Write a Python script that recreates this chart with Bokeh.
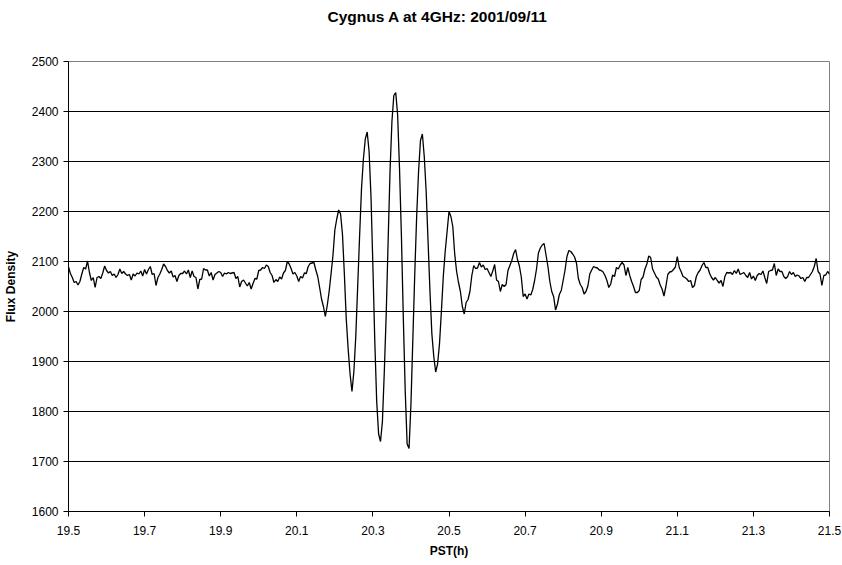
import numpy as np
from bokeh.plotting import figure
from bokeh.models import FixedTicker, Range1d, ColumnDataSource, Title
from bokeh.embed import file_html
from bokeh.resources import INLINE

# Time axis: regular sampling, hours PST
t_start = 19.5
t_step = 0.005

# Flux density readings, split by section of the scan
flux_pre_a = [
    2089, 2076, 2068, 2058, 2060, 2053, 2060, 2075, 2088, 2085,
    2101, 2078, 2062, 2068, 2048, 2068, 2070, 2066, 2077, 2091,
    2082, 2077, 2080, 2072, 2075, 2068, 2074, 2085, 2076, 2080,
    2075, 2072, 2074, 2063, 2075, 2071, 2077, 2075, 2081, 2071,
    2084, 2075, 2084, 2090, 2074, 2076, 2052, 2068, 2075, 2084,
    2095, 2090, 2082, 2077, 2081, 2069, 2072, 2060, 2072, 2076,
    2076, 2081, 2075, 2083,
]
flux_pre_b = [
    2068, 2081, 2070, 2068, 2045, 2064, 2065, 2086, 2083, 2083,
    2071, 2078, 2063, 2074, 2077, 2080, 2078, 2070, 2077, 2075,
    2078, 2076, 2077, 2078, 2066, 2070, 2049, 2060, 2063, 2057,
    2051, 2058, 2045, 2056, 2066, 2065, 2082, 2083, 2088, 2086,
    2093, 2090, 2078, 2072, 2058, 2064, 2060, 2069, 2065, 2077,
    2082, 2100, 2095, 2086, 2075, 2078, 2071, 2060, 2070, 2067,
    2077, 2076, 2090, 2096, 2097, 2098,
]
flux_fringes = [
    2083, 2070, 2048, 2025, 2010, 1990, 2012, 2040, 2075, 2112,
    2163, 2185, 2203, 2195, 2155, 2075, 1985, 1925, 1875, 1840,
    1880, 1950, 2050, 2150, 2245, 2305, 2345, 2359, 2320, 2230,
    2090, 1940, 1820, 1755, 1740, 1780, 1880, 1995, 2140, 2280,
    2380, 2432, 2438, 2393, 2285, 2150, 1985, 1840, 1735, 1726,
    1815, 1945, 2075, 2190, 2280, 2342, 2355, 2310, 2240, 2140,
    2040, 1955, 1910, 1879, 1895, 1935, 2000, 2070, 2120, 2160,
    2200, 2190, 2170, 2115, 2080, 2058, 2040, 2010, 1995, 2018,
    2024,
]
flux_post_a = [
    2040, 2072, 2092, 2086, 2087, 2098, 2089, 2093, 2084, 2086,
    2078, 2070, 2081, 2094, 2063, 2060, 2040, 2054, 2050, 2054,
    2082, 2092, 2102, 2116, 2124, 2104, 2091, 2069, 2030, 2035,
    2025, 2035, 2033, 2044, 2062, 2085, 2117, 2127, 2133, 2136,
    2113, 2090, 2060, 2040, 2030, 2003, 2015, 2034, 2042, 2062,
    2083, 2110, 2122, 2120, 2115, 2109, 2097, 2066, 2054, 2048,
    2035, 2040, 2051, 2075,
]
flux_post_b = [
    2083, 2090, 2088, 2087, 2083, 2082, 2079, 2072, 2062, 2048,
    2055, 2073, 2070, 2088, 2085, 2093, 2098, 2093, 2072, 2088,
    2072, 2060, 2050, 2038, 2038, 2042, 2064, 2069, 2085, 2095,
    2111, 2108, 2085, 2077, 2069, 2065, 2053, 2045, 2031, 2050,
    2074, 2079, 2080, 2084, 2089, 2110, 2088, 2080, 2070, 2068,
    2065, 2060, 2062, 2048, 2052, 2070, 2078, 2083, 2092, 2098,
    2088, 2088, 2076,
]
flux_post_c = [
    2068, 2063, 2068, 2062, 2057, 2062, 2050, 2070, 2078, 2077,
    2078, 2074, 2082, 2076, 2085, 2074, 2076, 2078, 2072, 2068,
    2078, 2065, 2071, 2062, 2072, 2076, 2074, 2081, 2068, 2056,
    2080, 2082, 2083, 2096, 2072, 2085, 2080, 2080, 2070, 2066,
    2070, 2080, 2074, 2078, 2070, 2073, 2071, 2066, 2068, 2060,
    2068, 2068, 2074, 2080, 2090, 2106, 2080, 2075, 2052, 2072,
    2073, 2080, 2075,
]

x_ticks = [19.5, 19.7, 19.9, 20.1, 20.3, 20.5, 20.7, 20.9, 21.1, 21.3, 21.5]
y_ticks = [1600, 1700, 1800, 1900, 2000, 2100, 2200, 2300, 2400, 2500]
title_text = "Cygnus A at 4GHz: 2001/09/11"

flux = flux_pre_a + flux_pre_b + flux_fringes + flux_post_a + flux_post_b + flux_post_c
pst = t_start + t_step * np.arange(len(flux))
source = ColumnDataSource(data=dict(pst=pst, flux=flux))

FONT = "Liberation Sans"

p = figure(
    width=842, height=565,
    output_backend="svg", toolbar_location=None,
    x_range=Range1d(x_ticks[0], x_ticks[-1]),
    y_range=Range1d(y_ticks[0], y_ticks[-1]),
    min_border_left=67, min_border_right=13,
    min_border_top=61, min_border_bottom=54,
)
p.background_fill_color = "white"
p.border_fill_color = "white"
p.outline_line_color = "#808080"
p.outline_line_width = 1

# Blank strip between the title and the plotting frame
p.add_layout(Title(text=" ", text_font_size="1px", standoff=29), "above")
p.add_layout(Title(
    text=title_text, align="left", offset=259, standoff=10,
    text_font=FONT, text_font_style="bold", text_font_size="15.5px",
    text_color="black",
), "above")

p.line("pst", "flux", source=source, line_color="black", line_width=1.3)

# Axes
p.xaxis.ticker = FixedTicker(ticks=x_ticks)
p.yaxis.ticker = FixedTicker(ticks=y_ticks)
for ax in (p.xaxis[0], p.yaxis[0]):
    ax.axis_line_color = "black"
    ax.axis_line_width = 1
    ax.major_tick_line_color = "black"
    ax.major_tick_out = 5
    ax.major_tick_in = 0
    ax.minor_tick_line_color = None
    ax.major_label_text_font = FONT
    ax.major_label_text_font_size = "12px"
    ax.major_label_text_color = "black"
    ax.axis_label_text_font = FONT
    ax.axis_label_text_font_style = "bold"
    ax.axis_label_text_font_size = "12px"
    ax.axis_label_text_color = "black"

p.xaxis.axis_label = "PST(h)"
p.yaxis.axis_label = "Flux Density"
p.xaxis.major_label_standoff = 9
p.xaxis.axis_label_standoff = 6
p.yaxis.major_label_standoff = 5
p.yaxis.axis_label_standoff = 11

# Horizontal gridlines only
p.xgrid.grid_line_color = None
p.ygrid.grid_line_color = "black"
p.ygrid.grid_line_width = 1

open("out.html", "w").write(file_html(p, INLINE))
